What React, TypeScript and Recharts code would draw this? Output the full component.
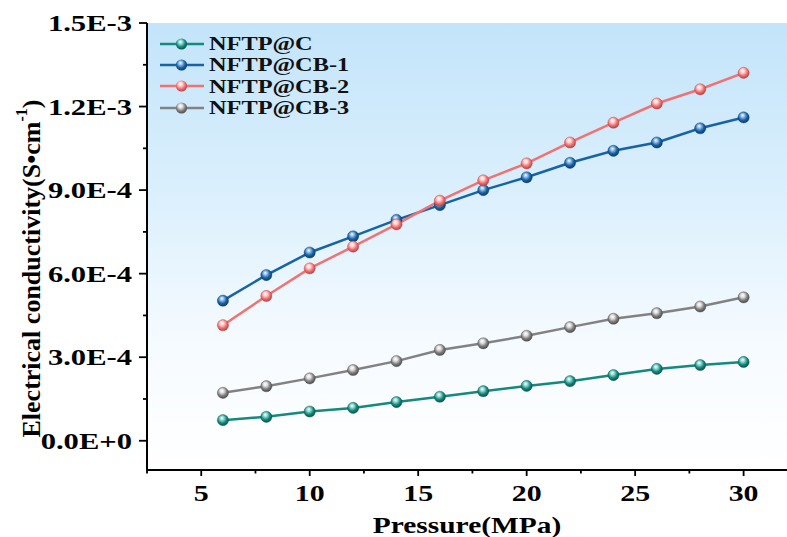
import React from 'react';
import { LineChart, Line, XAxis, YAxis, CartesianGrid, Legend, Label } from 'recharts';

const pressure = [6, 8, 10, 12, 14, 16, 18, 20, 22, 24, 26, 28, 30];
const nftpC = [0.74e-4, 0.86e-4, 1.05e-4, 1.18e-4, 1.39e-4, 1.58e-4, 1.78e-4, 1.97e-4, 2.14e-4, 2.36e-4, 2.58e-4, 2.72e-4, 2.83e-4];
const nftpCB1 = [5.03e-4, 5.95e-4, 6.76e-4, 7.34e-4, 7.93e-4, 8.46e-4, 9.0e-4, 9.46e-4, 9.98e-4, 10.41e-4, 10.71e-4, 11.22e-4, 11.61e-4];
const nftpCB2 = [4.15e-4, 5.2e-4, 6.19e-4, 6.97e-4, 7.77e-4, 8.62e-4, 9.35e-4, 9.96e-4, 10.71e-4, 11.42e-4, 12.11e-4, 12.62e-4, 13.21e-4];
const nftpCB3 = [1.72e-4, 1.96e-4, 2.24e-4, 2.54e-4, 2.86e-4, 3.26e-4, 3.5e-4, 3.77e-4, 4.08e-4, 4.38e-4, 4.58e-4, 4.82e-4, 5.15e-4];

const seriesNames = ['NFTP@C', 'NFTP@CB-1', 'NFTP@CB-2', 'NFTP@CB-3'];
const seriesKeys = ['c', 'cb1', 'cb2', 'cb3'];
const seriesColors = ['#14897e', '#1763a6', '#f07272', '#828282'];
const seriesDark = ['#0a5048', '#0c3a66', '#b84040', '#4a4a4a'];
const seriesLight = ['#8fd8cf', '#8ab8e6', '#ffd0d0', '#e0e0e0'];

const xMajorTicks = [5, 10, 15, 20, 25, 30];
const xMinorTicks = [2.5, 7.5, 12.5, 17.5, 22.5, 27.5];
const yMajorTicks = [0, 3e-4, 6e-4, 9e-4, 1.2e-3, 1.5e-3];
const yMinorTicks = [1.5e-4, 4.5e-4, 7.5e-4, 10.5e-4, 13.5e-4];
const xDomain = [2.5, 32];
const yDomain = [-1.05e-4, 1.5e-3];

const data = pressure.map((p, i) => ({
  p,
  c: nftpC[i],
  cb1: nftpCB1[i],
  cb2: nftpCB2[i],
  cb3: nftpCB3[i],
}));

const FONT = '"Liberation Serif", "Times New Roman", serif';
const STRETCH = 1.3;

const isIn = (arr: number[], v: number) => arr.some((a) => Math.abs(a - v) < 1e-9);

const fmtY = (v: number) => v.toExponential(1).replace('e', 'E');

const XTick = (props: any) => {
  const { x, y, payload } = props;
  const major = isIn(xMajorTicks, payload.value);
  return (
    <g>
      <line x1={x} x2={x} y1={y} y2={y + (major ? 6 : 3.5)} stroke="#000" strokeWidth={1.8} />
      {major && (
        <text
          transform={`translate(${x} ${y + 31}) scale(${STRETCH} 1)`}
          x={0}
          y={0}
          textAnchor="middle"
          fontFamily={FONT}
          fontWeight="bold"
          fontSize={23}
          fill="#000"
        >
          {payload.value}
        </text>
      )}
    </g>
  );
};

const YTick = (props: any) => {
  const { x, y, payload } = props;
  const major = isIn(yMajorTicks, payload.value);
  return (
    <g>
      <line x1={x - (major ? 8 : 4)} x2={x} y1={y} y2={y} stroke="#000" strokeWidth={1.8} />
      {major && (
        <text
          transform={`translate(${x - 15} ${y}) scale(1.33 1)`}
          x={0}
          y={0}
          dy="0.35em"
          textAnchor="end"
          fontFamily={FONT}
          fontWeight="bold"
          fontSize={23}
          fill="#000"
        >
          {fmtY(payload.value)}
        </text>
      )}
    </g>
  );
};

const makeDot = (idx: number) => (props: any) => {
  const { cx, cy, index } = props;
  if (cx == null || cy == null) return <g key={`d${idx}-${index}`} />;
  return (
    <circle key={`d${idx}-${index}`} cx={cx} cy={cy} r={5.6} fill={`url(#ball${idx})`} stroke={seriesDark[idx]} strokeWidth={0.4} />
  );
};

const LegendContent = () => (
  <div style={{ fontFamily: FONT, fontWeight: 'bold', fontSize: 19, color: '#111' }}>
    {seriesNames.map((n, i) => (
      <div key={n} style={{ display: 'flex', alignItems: 'center', height: 21.3, whiteSpace: 'nowrap' }}>
        <svg width={44} height={14} style={{ display: 'block' }}>
          <defs>
            <radialGradient id={`lball${i}`} cx="45%" cy="40%" r="60%" fx="40%" fy="30%">
              <stop offset="0%" stopColor="#ffffff" />
              <stop offset="30%" stopColor={seriesLight[i]} />
              <stop offset="65%" stopColor={seriesColors[i]} />
              <stop offset="100%" stopColor={seriesDark[i]} />
            </radialGradient>
          </defs>
          <line x1={0} x2={44} y1={7} y2={7} stroke={seriesColors[i]} strokeWidth={2.5} />
          <circle cx={21.5} cy={7} r={5.6} fill={`url(#lball${i})`} />
        </svg>
        <span
          style={{
            marginLeft: 5,
            lineHeight: '21px',
            display: 'inline-block',
            transform: 'scaleX(1.28)',
            transformOrigin: 'left center',
          }}
        >
          {n}
        </span>
      </div>
    ))}
  </div>
);

export default function App() {
  return (
    <div style={{ position: 'absolute', left: 0, top: 0, width: 787, height: 537, background: '#fff' }}>
      <LineChart width={787} height={537} data={data} margin={{ top: 23, right: 0, left: 0, bottom: 0 }}>
        <defs>
          <linearGradient id="bgGrad" x1="0" y1="0" x2="0" y2="1">
            <stop offset="0%" stopColor="#c3e4fa" />
            <stop offset="40%" stopColor="#dcf0fd" />
            <stop offset="72%" stopColor="#f6fbff" />
            <stop offset="100%" stopColor="#ffffff" />
          </linearGradient>
          {seriesColors.map((c, i) => (
            <radialGradient key={i} id={`ball${i}`} cx="45%" cy="40%" r="60%" fx="40%" fy="30%">
              <stop offset="0%" stopColor="#ffffff" />
              <stop offset="30%" stopColor={seriesLight[i]} />
              <stop offset="65%" stopColor={c} />
              <stop offset="100%" stopColor={seriesDark[i]} />
            </radialGradient>
          ))}
        </defs>
        <CartesianGrid horizontal={false} vertical={false} fill="url(#bgGrad)" stroke="none" />
        <XAxis
          dataKey="p"
          type="number"
          domain={xDomain}
          ticks={[...xMinorTicks, ...xMajorTicks].sort((a, b) => a - b)}
          interval={0}
          tickSize={0}
          tickMargin={0}
          tickLine={false}
          tick={<XTick />}
          height={67}
          axisLine={{ stroke: '#000', strokeWidth: 2 }}
          allowDataOverflow
        >
          <Label
            content={(props: any) => {
              const vb = props.viewBox || { x: 147, width: 640 };
              const cx = vb.x + vb.width / 2;
              return (
                <text
                  transform={`translate(${cx} 533) scale(1.28 1)`}
                  x={0}
                  y={0}
                  textAnchor="middle"
                  fontFamily={FONT}
                  fontWeight="bold"
                  fontSize={23}
                  fill="#000"
                >
                  Pressure(MPa)
                </text>
              );
            }}
          />
        </XAxis>
        <XAxis
          xAxisId="top"
          orientation="top"
          dataKey="p"
          type="number"
          domain={xDomain}
          height={0}
          tick={false}
          tickLine={false}
          axisLine={{ stroke: '#000', strokeWidth: 2 }}
          allowDataOverflow
        />
        <YAxis
          type="number"
          domain={yDomain}
          ticks={[...yMinorTicks, ...yMajorTicks].sort((a, b) => a - b)}
          interval={0}
          width={147}
          tickSize={0}
          tickMargin={0}
          tickLine={false}
          tick={<YTick />}
          axisLine={{ stroke: '#000', strokeWidth: 2 }}
          allowDataOverflow
        >
          <Label
            content={(props: any) => {
              const vb = props.viewBox || { y: 23, height: 447 };
              const cx = 31;
              const cy = vb.y + vb.height / 2 + 22;
              return (
                <text
                  x={cx}
                  y={cy}
                  transform={`rotate(-90 ${cx} ${cy})`}
                  textAnchor="middle"
                  dominantBaseline="central"
                  fontFamily={FONT}
                  fontWeight="bold"
                  fontSize={26}
                  fill="#000"
                >
                  Electrical conductivity(S•cm
                  <tspan dy={-10} fontSize={16}>-1</tspan>
                  <tspan dy={10}>)</tspan>
                </text>
              );
            }}
          />
        </YAxis>
        <Legend
          layout="vertical"
          align="center"
          verticalAlign="middle"
          content={<LegendContent />}
          wrapperStyle={{ left: 160, top: 33, width: 'auto', height: 'auto' }}
        />
        {seriesKeys.map((k, i) => (
          <Line
            key={k}
            type="linear"
            dataKey={k}
            name={seriesNames[i]}
            stroke={seriesColors[i]}
            strokeWidth={2.5}
            dot={makeDot(i)}
            activeDot={false}
            isAnimationActive={false}
          />
        ))}
      </LineChart>
    </div>
  );
}
